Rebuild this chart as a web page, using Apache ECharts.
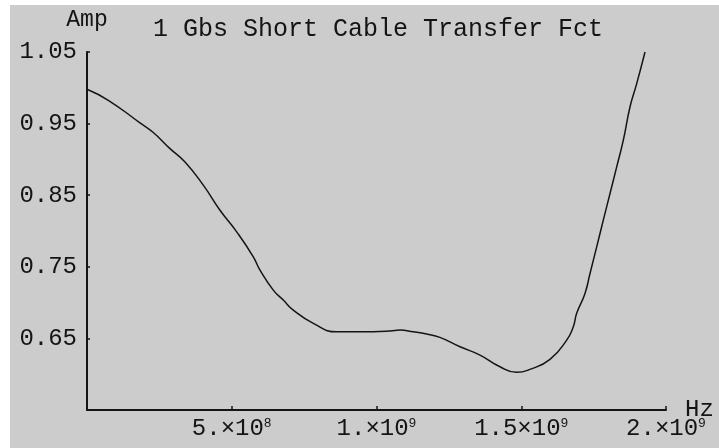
<!DOCTYPE html>
<html>
<head>
<meta charset="utf-8">
<script src="https://cdn.jsdelivr.net/npm/echarts@6/dist/echarts.min.js"></script>
<style>
  html, body { margin: 0; padding: 0; background: #ffffff; }
  #chart { position: absolute; left: 10px; top: 5px; width: 709px; height: 443px; background: #cccccc; }
</style>
</head>
<body>
<div id="chart"></div>
<script>
// frequency (Hz) and amplitude
const freqHz = [
  0, 0.0736e9, 0.183e9, 0.229e9, 0.2867e9, 0.3385e9, 0.4017e9, 0.4594e9,
  0.5171e9, 0.5744e9, 0.5976e9, 0.6435e9, 0.678e9, 0.7126e9, 0.7817e9,
  0.8625e9, 0.943e9, 1.0466e9, 1.0812e9, 1.127e9, 1.1734e9, 1.219e9,
  1.2884e9, 1.3575e9, 1.4266e9, 1.4843e9, 1.5302e9, 1.5993e9, 1.657e9,
  1.6798e9, 1.6915e9, 1.7202e9, 1.7375e9, 1.7606e9, 1.7834e9, 1.8066e9,
  1.8297e9, 1.8526e9, 1.8756e9, 1.8988e9, 1.9275e9
];
const amp = [
  0.998, 0.9826, 0.951, 0.9375, 0.915, 0.8965, 0.864, 0.829,
  0.7988, 0.764, 0.7453, 0.7174, 0.7035, 0.6895, 0.671,
  0.6592, 0.6592, 0.6602, 0.6616, 0.6592, 0.656, 0.6514,
  0.6383, 0.6267, 0.6104, 0.6026, 0.6067, 0.6207, 0.6476,
  0.6662, 0.685, 0.7128, 0.7407, 0.7778, 0.8151, 0.8524,
  0.8895, 0.9268, 0.9732, 1.0059, 1.05
];
// tick labels: mantissa and exponent for the x axis
const xTickLabels = { 5e8: ['5.', '8'], 1e9: ['1.', '9'], 1.5e9: ['1.5', '9'], 2e9: ['2.', '9'] };
const yTickLabels = ['0.65', '0.75', '0.85', '0.95', '1.05'];

const ink = '#141414';
const mono = '"Liberation Mono", "DejaVu Sans Mono", monospace';

const chart = echarts.init(document.getElementById('chart'));
chart.setOption({
  animation: false,
  title: {
    text: '1 Gbs Short Cable Transfer Fct',
    left: 138,
    top: 7,
    textStyle: { fontFamily: mono, fontSize: 25, fontWeight: 'normal', color: ink }
  },
  grid: { left: 77, top: 47, right: 53, bottom: 38, outerBoundsMode: 'none', containLabel: false },
  xAxis: {
    type: 'value',
    min: 0,
    max: 2e9,
    interval: 5e8,
    name: 'Hz',
    nameLocation: 'end',
    nameGap: 19,
    nameMoveOverlap: false,
    nameTextStyle: { fontFamily: mono, fontSize: 24, color: ink, align: 'left', verticalAlign: 'middle', padding: [0, 0, 6, 0] },
    splitLine: { show: false },
    axisLine: { lineStyle: { color: ink, width: 2 } },
    axisTick: { inside: true, length: 4, lineStyle: { color: ink, width: 1.5 } },
    axisLabel: {
      margin: 7,
      color: ink,
      fontFamily: mono,
      fontSize: 24,
      formatter: function (v) {
        const t = xTickLabels[v];
        return t ? t[0] + '×10{sup|' + t[1] + '}' : '';
      },
      rich: {
        sup: { fontFamily: mono, fontSize: 13, color: ink, verticalAlign: 'top', padding: [0, 0, 10, 0] }
      }
    }
  },
  yAxis: {
    type: 'value',
    min: 0.55,
    max: 1.05,
    interval: 0.1,
    name: 'Amp',
    nameLocation: 'end',
    nameGap: 21,
    nameMoveOverlap: false,
    nameTextStyle: { fontFamily: mono, fontSize: 23, color: ink, align: 'center', verticalAlign: 'bottom' },
    splitLine: { show: false },
    axisLine: { lineStyle: { color: ink, width: 2 } },
    axisTick: { inside: true, length: 3, lineStyle: { color: ink, width: 1.5 } },
    axisLabel: {
      margin: 10,
      color: ink,
      fontFamily: mono,
      fontSize: 24,
      formatter: function (v) {
        const s = v.toFixed(2);
        return yTickLabels.indexOf(s) >= 0 ? s : '';
      }
    }
  },
  series: [{
    type: 'line',
    data: freqHz.map((f, i) => [f, amp[i]]),
    showSymbol: false,
    smooth: 0.5,
    lineStyle: { color: ink, width: 1.5 }
  }]
});
</script>
</body>
</html>
